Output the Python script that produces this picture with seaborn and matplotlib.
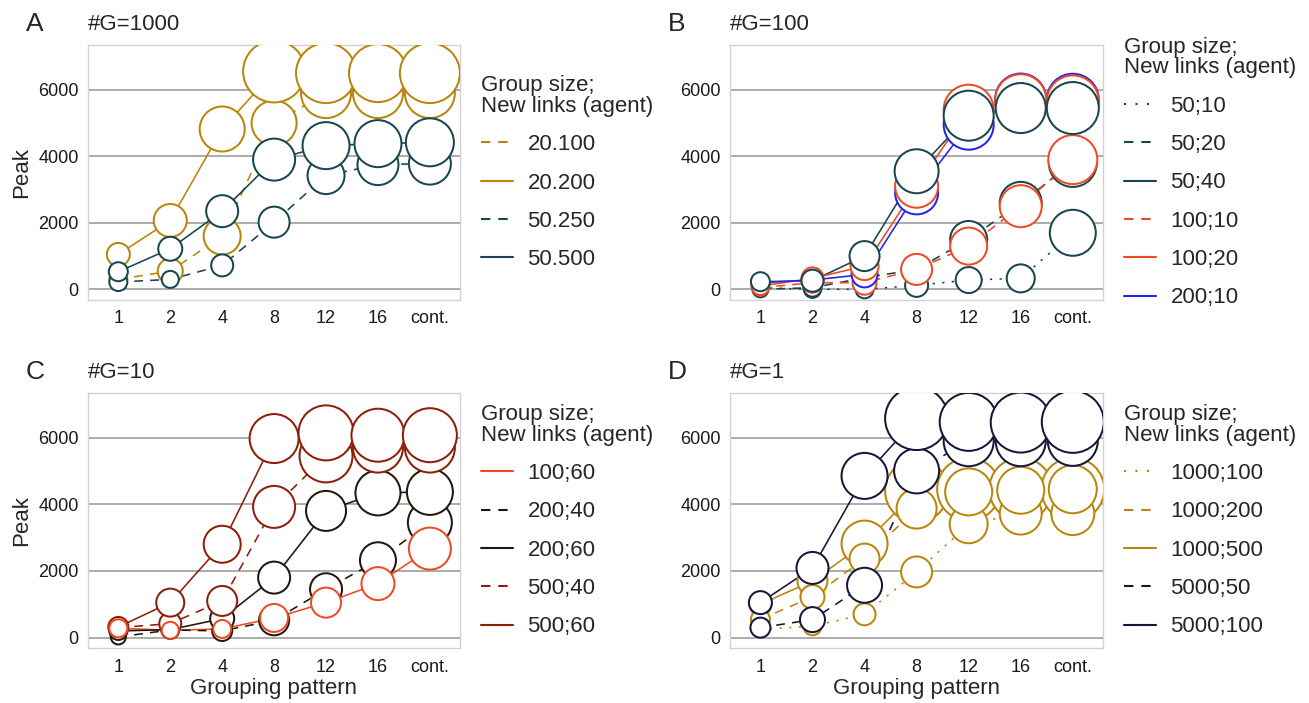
import matplotlib
matplotlib.use("Agg")
import pandas as pd
import matplotlib.pyplot as plt
from matplotlib.lines import Line2D
import seaborn as sns

# --- DATEN ---
patterns = ["1", "2", "4", "8", "12", "16", "cont."]

# A: #G=1000
a_groups = ["20.100", "20.200", "50.250", "50.500"]
a_peak = [
    [300, 550, 1600, 5000, 5900, 5900, 5900],
    [1050, 2070, 4820, 6550, 6500, 6500, 6500],
    [220, 300, 720, 2020, 3420, 3750, 3780],
    [530, 1220, 2350, 3900, 4320, 4380, 4420],
]
# relative circle magnitude
a_mag = [
    [18, 25, 37, 45, 50, 50, 50],
    [23, 33, 45, 62, 60, 58, 60],
    [18, 17, 22, 31, 37, 41, 42],
    [19, 24, 32, 42, 47, 47, 48],
]

# B: #G=100
b_groups = ["50;10", "50;20", "50;40", "100;10", "100;20", "200;10"]
b_peak = [
    [50, 0, 0, 120, 280, 330, 1700],
    [0, 50, 350, 600, 1500, 2600, 3800],
    [230, 260, 1000, 3550, 5220, 5450, 5450],
    [50, 200, 200, 600, 1300, 2500, 3900],
    [100, 330, 700, 3100, 5400, 5700, 5650],
    [200, 280, 450, 2900, 4950, 5720, 5700],
]
b_mag = [
    [16, 17, 18, 23, 26, 28, 46],
    [16, 18, 22, 30, 37, 42, 48],
    [19, 22, 30, 44, 50, 50, 52],
    [16, 20, 24, 31, 37, 42, 49],
    [18, 22, 28, 43, 50, 51, 52],
    [18, 22, 26, 43, 50, 51, 52],
]

# C: #G=10
c_groups = ["100;60", "200;40", "200;60", "500;40", "500;60"]
c_peak = [
    [280, 220, 260, 590, 1050, 1620, 2670],
    [20, 230, 200, 520, 1450, 2320, 3450],
    [200, 240, 570, 1800, 3800, 4340, 4370],
    [300, 420, 1100, 3920, 5450, 5700, 5700],
    [320, 1050, 2800, 5970, 6140, 6070, 6070],
]
c_mag = [
    [18, 17, 18, 28, 30, 33, 42],
    [15, 18, 20, 30, 32, 36, 44],
    [18, 17, 24, 32, 40, 45, 46],
    [19, 22, 30, 42, 53, 50, 50],
    [20, 28, 37, 49, 55, 53, 54],
]

# D: #G=1
d_groups = ["1000;100", "1000;200", "1000;500", "5000;50", "5000;100"]
d_peak = [
    [250, 340, 700, 1970, 3400, 3720, 3720],
    [550, 1220, 2370, 3870, 4370, 4420, 4450],
    [1000, 1700, 2820, 4400, 4450, 4450, 4450],
    [300, 540, 1570, 5000, 5890, 5890, 5900],
    [1050, 2090, 4850, 6570, 6470, 6450, 6470],
]
d_mag = [
    [15, 18, 22, 31, 38, 42, 43],
    [19, 24, 30, 40, 47, 47, 48],
    [22, 30, 46, 63, 63, 63, 63],
    [20, 25, 35, 45, 50, 50, 50],
    [23, 32, 46, 63, 58, 60, 62],
]

# --- STIL ---
GOLD = "#B8860B"
TEAL = "#174650"
RED = "#F04A23"
BLUE = "#2424F2"
BLACK = "#22170F"
DARKRED = "#8C1E0A"
NAVY = "#16163A"

SOLID, DASH, DOT = "", (5.5, 4.5), (1.4, 4.6)
LEG_DASH = {SOLID: None, DASH: (4.5, 3.8), DOT: (1.0, 4.5)}

MAG_MAX = 63
S_MAX = (MAG_MAX * 0.72) ** 2

W, H = 1309, 703


def make_df(groups, peak, mag):
    rows = []
    for g, pk, mg in zip(groups, peak, mag):
        for p, v, m in zip(patterns, pk, mg):
            rows.append({"Pattern": p, "Group": g, "Peak": v, "Mag": m})
    df = pd.DataFrame(rows)
    df["Area"] = df["Mag"] ** 2
    return df


def draw_panel(ax, groups, peak, mag, colors, styles, order, letter, title,
               show_xlabel, show_ylabel):
    df = make_df(groups, peak, mag)
    pal = dict(zip(groups, colors))
    dash = dict(zip(groups, styles))

    sns.lineplot(data=df, x="Pattern", y="Peak", hue="Group", style="Group",
                 hue_order=groups, style_order=groups, palette=pal, dashes=dash,
                 sort=False, estimator=None, legend=False, lw=1.15, ax=ax, zorder=2)

    # Reihenfolge der Kreise (spaetere liegen oben)
    pts = pd.concat([df[df["Group"] == g] for g in order])
    sns.scatterplot(data=pts, x="Pattern", y="Peak", hue="Group", hue_order=groups,
                    palette=pal, size="Area", sizes=(0, S_MAX),
                    size_norm=(0, MAG_MAX ** 2), legend=False, ax=ax,
                    linewidth=1.45, zorder=3)
    coll = ax.collections[-1]
    coll.set_edgecolors(coll.get_facecolors().copy())
    coll.set_facecolors("white")

    ax.set_xlim(-0.59, 6.58)
    ax.set_ylim(-320, 7345)
    ax.set_yticks([0, 2000, 4000, 6000])
    ax.set_yticklabels(["0", "2000", "4000", "6000"])
    ax.grid(False)
    for y in [0, 2000, 4000, 6000]:
        ax.axhline(y, color="#ababab", lw=1.4, zorder=1)
    for s in ax.spines.values():
        s.set_color("#d2d2d2")
        s.set_linewidth(1.0)
    ax.tick_params(axis="both", length=4.5, width=1, color="#9a9a9a",
                   labelsize=13, labelcolor="#1a1a1a")
    ax.tick_params(axis="x", pad=3)
    ax.tick_params(axis="y", pad=2)
    ax.set_xlabel("Grouping pattern" if show_xlabel else "", fontsize=16, labelpad=2)
    ax.set_ylabel("Peak" if show_ylabel else "", fontsize=16, labelpad=4)

    handles = []
    for c, st in zip(colors, styles):
        if st == SOLID:
            handles.append(Line2D([], [], color=c, lw=1.5, ls="-"))
        else:
            handles.append(Line2D([], [], color=c, lw=1.5, dashes=LEG_DASH[st]))
    pos = ax.get_position()
    gap = 12 / (pos.width * W)
    leg = ax.legend(handles, groups, title="Group size;\nNew links (agent)",
                    loc="center left", bbox_to_anchor=(1 + gap, 0.5), frameon=False,
                    fontsize=16, title_fontsize=16, handlelength=1.45,
                    handletextpad=0.65, labelspacing=0.78, borderaxespad=0,
                    borderpad=0.4, alignment="left")
    leg.get_title().set_linespacing(1.0)

    x0 = pos.x0
    ytop = pos.y1
    fig = ax.figure
    fig.text(x0 - 62 / W, ytop + 14 / H, letter, fontsize=19, va="baseline", ha="left")
    fig.text(x0, ytop + 15 / H, title, fontsize=16, va="baseline", ha="left")


def main():
    sns.set_theme(style="white")
    plt.rcParams["font.family"] = ["Liberation Sans", "DejaVu Sans"]

    fig = plt.figure(figsize=(W / 100, H / 100), dpi=100)
    ax_a = fig.add_axes([87.7 / W, 403 / H, 372.3 / W, 255 / H])
    ax_b = fig.add_axes([729.7 / W, 403 / H, 373.3 / W, 255 / H])
    ax_c = fig.add_axes([87.7 / W, 54.7 / H, 372.3 / W, 255.6 / H])
    ax_d = fig.add_axes([729.7 / W, 54.7 / H, 373.3 / W, 255.6 / H])

    draw_panel(ax_a, a_groups, a_peak, a_mag,
               [GOLD, GOLD, TEAL, TEAL], [DASH, SOLID, DASH, SOLID],
               a_groups, "A", "#G=1000", False, True)
    draw_panel(ax_b, b_groups, b_peak, b_mag,
               [TEAL, TEAL, TEAL, RED, RED, BLUE],
               [DOT, DASH, SOLID, DASH, SOLID, SOLID],
               ["50;10", "50;20", "100;10", "200;10", "100;20", "50;40"],
               "B", "#G=100", False, False)
    draw_panel(ax_c, c_groups, c_peak, c_mag,
               [RED, BLACK, BLACK, DARKRED, DARKRED],
               [SOLID, DASH, SOLID, DASH, SOLID],
               ["200;40", "200;60", "500;40", "500;60", "100;60"],
               "C", "#G=10", True, True)
    draw_panel(ax_d, d_groups, d_peak, d_mag,
               [GOLD, GOLD, GOLD, NAVY, NAVY],
               [DOT, DASH, SOLID, DASH, SOLID],
               ["1000;500", "1000;100", "1000;200", "5000;50", "5000;100"],
               "D", "#G=1", True, False)

    fig.savefig("out.png", dpi=100)


if __name__ == "__main__":
    main()
